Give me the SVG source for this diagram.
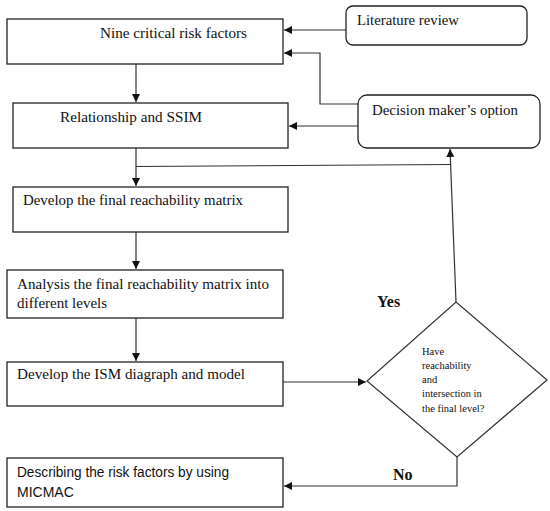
<svg xmlns="http://www.w3.org/2000/svg" width="550" height="511" viewBox="0 0 550 511">
<defs>
<style>
.box{fill:#fff;stroke:#222;stroke-width:1.3}
.ln{fill:none;stroke:#333;stroke-width:1.2}
.t{font-family:"Liberation Serif","Times New Roman",serif;font-size:15px;fill:#111}
.s{font-family:"Liberation Sans",Arial,sans-serif;font-size:14px;fill:#111}
.d{font-family:"Liberation Serif","Times New Roman",serif;font-size:10.5px;fill:#111}
.b{font-family:"Liberation Serif","Times New Roman",serif;font-size:16px;font-weight:bold;fill:#111}
</style>
<marker id="ah" markerUnits="userSpaceOnUse" markerWidth="10" markerHeight="10" refX="8" refY="4" orient="auto">
<path d="M0,0 L8,4 L0,8 z" fill="#111"/>
</marker>
</defs>
<rect width="550" height="511" fill="#fff"/>
<g id="connectors">
<path class="ln" d="M346,30 L284,30" marker-end="url(#ah)"/>
<path class="ln" d="M358,104 L320,104 L320,53 L284,53" marker-end="url(#ah)"/>
<path class="ln" d="M358,126 L289,126" marker-end="url(#ah)"/>
<path class="ln" d="M136,64 L136,102" marker-end="url(#ah)"/>
<path class="ln" d="M136,148 L136,186" marker-end="url(#ah)"/>
<path class="ln" d="M136,166.5 L450,164.5"/>
<path class="ln" d="M456,302 L450,149" marker-end="url(#ah)"/>
<path class="ln" d="M136,232 L136,269" marker-end="url(#ah)"/>
<path class="ln" d="M136,318 L136,361" marker-end="url(#ah)"/>
<path class="ln" d="M283,382 L366,382" marker-end="url(#ah)"/>
<path class="ln" d="M457,457 L457,486 L284,486" marker-end="url(#ah)"/>
<text class="b" x="377" y="307">Yes</text>
<text class="b" x="393" y="480">No</text>
</g>
<g id="n1">
<rect class="box" x="7" y="19" width="276" height="45"/>
<text class="t" x="100" y="38" textLength="147" lengthAdjust="spacingAndGlyphs">Nine critical risk factors</text>
</g>
<g id="lit">
<rect class="box" x="346" y="6" width="181" height="39" rx="7"/>
<text class="t" x="357" y="25" textLength="102" lengthAdjust="spacingAndGlyphs">Literature review</text>
</g>
<g id="dm">
<rect class="box" x="358" y="95" width="182" height="53" rx="9"/>
<text class="t" x="372" y="115" textLength="146" lengthAdjust="spacingAndGlyphs">Decision maker’s option</text>
</g>
<g id="n2">
<rect class="box" x="13" y="103" width="275" height="45"/>
<text class="t" x="60" y="122" textLength="142" lengthAdjust="spacingAndGlyphs">Relationship and SSIM</text>
</g>
<g id="n3">
<rect class="box" x="13" y="187" width="275" height="45"/>
<text class="t" x="23" y="205" textLength="220" lengthAdjust="spacingAndGlyphs">Develop the final reachability matrix</text>
</g>
<g id="n4">
<rect class="box" x="7" y="270" width="276" height="48"/>
<text class="t" x="17" y="289" textLength="252" lengthAdjust="spacingAndGlyphs">Analysis the final reachability matrix into</text>
<text class="t" x="17" y="308">different levels</text>
</g>
<g id="n5">
<rect class="box" x="7" y="362" width="276" height="44"/>
<text class="t" x="17" y="379" textLength="228" lengthAdjust="spacingAndGlyphs">Develop the ISM diagraph and model</text>
</g>
<g id="n6">
<rect class="box" x="7" y="458" width="276" height="49"/>
<text class="s" x="17" y="477" textLength="212" lengthAdjust="spacingAndGlyphs">Describing the risk factors by using</text>
<text class="s" x="17" y="497">MICMAC</text>
</g>
<g id="decision">
<path class="ln" d="M456,302 L547,380 L457,457 L367,381 Z" fill="#fff"/>
<text class="d" x="422" y="355">Have</text>
<text class="d" x="422" y="369">reachability</text>
<text class="d" x="422" y="383">and</text>
<text class="d" x="422" y="397">intersection in</text>
<text class="d" x="422" y="412">the final level?</text>
</g>
</svg>
